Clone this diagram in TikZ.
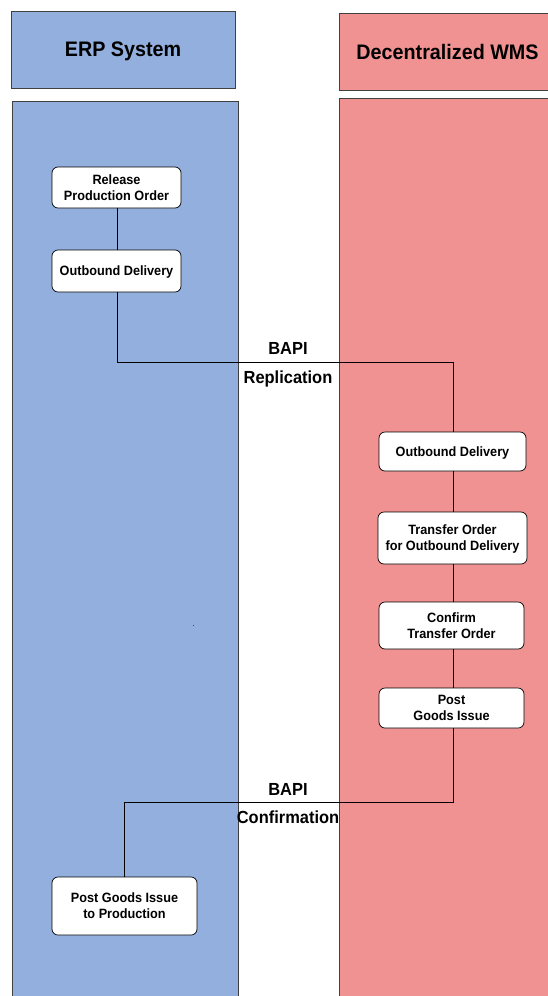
\documentclass[tikz,border=0pt]{standalone}
\usepackage{fontspec}
\setmainfont{Liberation Sans}[FakeStretch=0.94]
\definecolor{erpblue}{RGB}{147,175,222}
\definecolor{wmsred}{RGB}{240,146,146}
\begin{document}
\begin{tikzpicture}[x=1pt,y=-1pt,
  lane/.style={draw=black!75, line width=0.8pt},
  hdr/.style={font=\fontsize{21}{24}\selectfont\bfseries, inner sep=0pt},
  stepbox/.style={draw=black, fill=white, rounded corners=6pt, line width=0.7pt, align=center, inner sep=0pt,
     text depth=0pt, font=\fontsize{13.5}{16}\selectfont\bfseries},
  conn/.style={draw=black, line width=0.7pt},
  lbl/.style={font=\fontsize{17.5}{20}\selectfont\bfseries, inner sep=0pt}]
\useasboundingbox (0,0) rectangle (548,996);
\fill[white] (0,0) rectangle (548,996);
% lanes
\fill[erpblue] (12,101) rectangle (238,1000);
\draw[lane] (12,1000) -- (12,101) -- (238,101) -- (238,1000);
\fill[wmsred] (339,98) rectangle (552,1000);
\draw[lane] (339,1000) -- (339,98) -- (552,98);
% headers
\draw[lane, fill=erpblue] (11,11) rectangle (235,88);
\node[hdr] (erp) at (123,51.5) {ERP System};
\draw[lane, fill=wmsred] (552,13) -- (339,13) -- (339,90) -- (552,90);
\node[hdr] (wms) at (447.5,51.5) {Decentralized WMS};
% ERP boxes
\node[stepbox, minimum width=129pt, minimum height=41pt] (rpo) at (116.5,187.5) {Release\\Production Order};
\node[stepbox, minimum width=129pt, minimum height=42pt] (od1) at (116.5,271) {Outbound Delivery};
\node[stepbox, minimum width=145pt, minimum height=58pt] (pgp) at (124.5,906) {Post Goods Issue\\to Production};
% WMS boxes
\node[stepbox, minimum width=147pt, minimum height=39pt] (od2) at (452.5,451.5) {Outbound Delivery};
\node[stepbox, minimum width=149pt, minimum height=52pt] (to) at (452.5,538) {Transfer Order\\for Outbound Delivery};
\node[stepbox, minimum width=145pt, minimum height=47pt] (cto) at (451.5,625.5) {Confirm\\Transfer Order};
\node[stepbox, minimum width=145pt, minimum height=40pt] (pgi) at (451.5,708) {Post\\Goods Issue};
% labels
\node[lbl] (bapi1) at (288,348) {BAPI};
\node[lbl] (repl) at (288,379) {Replication};
\node[lbl] (bapi2) at (288,789) {BAPI};
\node[lbl] (conf) at (288,817) {Confirmation};
% connectors
\coordinate (r1) at (117,362);
\coordinate (r2) at (453,362);
\coordinate (c1) at (453,802);
\coordinate (c2) at (124,802);
\draw[conn] (rpo.south -| 117,0) -- (od1.north -| 117,0);
\draw[conn] (od1.south -| r1) -- (r1) -- (r2) -- (od2.north -| r2);
\draw[conn] (od2.south -| r2) -- (to.north -| r2);
\draw[conn] (to.south -| r2) -- (cto.north -| r2);
\draw[conn] (cto.south -| r2) -- (pgi.north -| r2);
\draw[conn] (pgi.south -| c1) -- (c1) -- (c2) -- (pgp.north -| c2);
% tiny mark
\fill[black!70] (192.5,624.5) rectangle (193.5,625.5);
\end{tikzpicture}
\end{document}
